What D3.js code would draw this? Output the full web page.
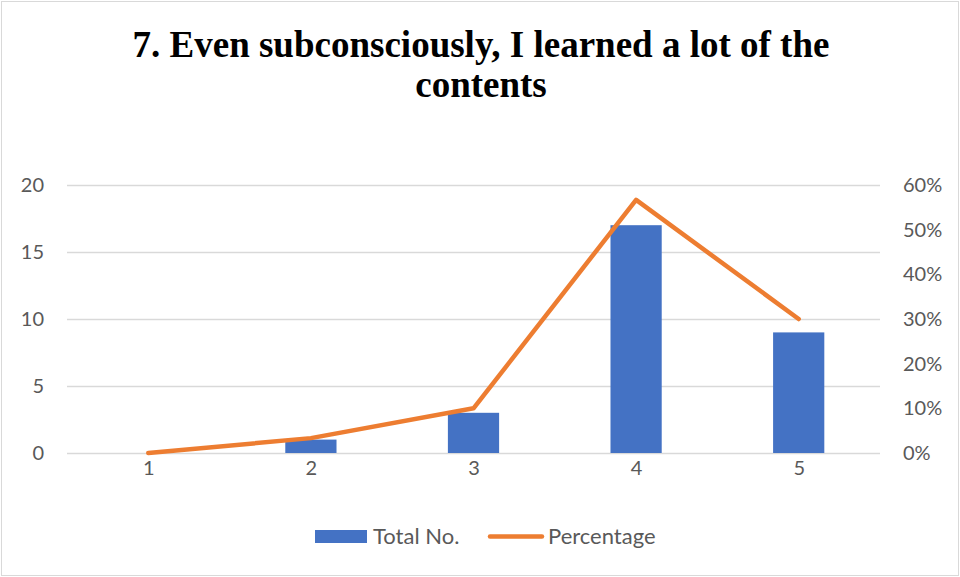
<!DOCTYPE html>
<html>
<head>
<meta charset="utf-8">
<script src="https://cdn.jsdelivr.net/npm/d3@7"></script>
<style>
  html, body { margin: 0; padding: 0; background: #fff; }
  svg { display: block; }
</style>
</head>
<body>
<svg id="chart" width="960" height="577"></svg>
<script>
// Survey item 7: responses per rating and share of all responses
const categories = ["1", "2", "3", "4", "5"];
const totals = [0, 1, 3, 17, 9];
const percentages = [0, 0.0333, 0.10, 0.5667, 0.30];
const leftTicks = [0, 5, 10, 15, 20];
const rightTicks = [0, 0.1, 0.2, 0.3, 0.4, 0.5, 0.6];
const titleLines = ["7. Even subconsciously, I learned a lot of the", "contents"];
const seriesNames = ["Total No.", "Percentage"];

const W = 960, H = 577;
const margin = { left: 67, right: 80, top: 185, bottom: 124 };
const blue = "#4472C4", orange = "#ED7D31", grid = "#D9D9D9", textCol = "#595959";
const labelFont = "Lato, 'Open Sans', sans-serif";

const svg = d3.select("#chart");

// outer chart frame
svg.append("rect")
  .attr("x", 1.5).attr("y", 1.5)
  .attr("width", W - 3).attr("height", H - 3)
  .attr("fill", "#fff").attr("stroke", "#D9D9D9").attr("stroke-width", 1);

// title
svg.append("g").selectAll("text").data(titleLines).join("text")
  .attr("x", 481)
  .attr("y", (d, i) => 57 + i * 40)
  .attr("text-anchor", "middle")
  .attr("font-family", "'Liberation Serif', 'Times New Roman', serif")
  .attr("font-weight", "bold")
  .attr("font-size", 37)
  .attr("fill", "#000")
  .text(d => d);

const x = d3.scaleBand()
  .domain(categories)
  .range([margin.left, W - margin.right])
  .paddingInner(0.685).paddingOuter(0.3425);
const xc = d3.scalePoint()
  .domain(categories)
  .range([margin.left, W - margin.right])
  .padding(0.5);

const yL = d3.scaleLinear().domain([0, 20]).range([H - margin.bottom, margin.top]);
const yR = d3.scaleLinear().domain([0, 0.6]).range([H - margin.bottom, margin.top]);

// gridlines
svg.append("g").selectAll("line").data(leftTicks).join("line")
  .attr("x1", margin.left).attr("x2", W - margin.right)
  .attr("y1", d => yL(d) + 0.5).attr("y2", d => yL(d) + 0.5)
  .attr("stroke", grid).attr("stroke-width", 1.3);

// left axis
const axL = svg.append("g")
  .attr("transform", `translate(${margin.left - 23},0)`)
  .call(d3.axisLeft(yL).tickValues(leftTicks).tickSize(0).tickPadding(0));
axL.select(".domain").remove();
axL.selectAll("text")
  .attr("font-family", labelFont).attr("font-size", 20).attr("fill", textCol);

// right axis
const axR = svg.append("g")
  .attr("transform", `translate(${W - margin.right + 23},0)`)
  .call(d3.axisRight(yR).tickValues(rightTicks).tickFormat(d3.format(".0%")).tickSize(0).tickPadding(0));
axR.select(".domain").remove();
axR.selectAll("text")
  .attr("font-family", labelFont).attr("font-size", 20).attr("fill", textCol);

// bottom axis labels
const axB = svg.append("g")
  .attr("transform", `translate(0,${H - margin.bottom + 8})`)
  .call(d3.axisBottom(xc).tickSize(0).tickPadding(0));
axB.select(".domain").remove();
axB.selectAll("text")
  .attr("font-family", labelFont).attr("font-size", 20).attr("fill", textCol);

// bars
svg.append("g").selectAll("rect").data(totals).join("rect")
  .attr("x", (d, i) => x(categories[i]))
  .attr("width", x.bandwidth())
  .attr("y", d => yL(d))
  .attr("height", d => yL(0) - yL(d))
  .attr("fill", blue);

// percentage line
const line = d3.line()
  .x((d, i) => xc(categories[i]))
  .y(d => yR(d));
svg.append("path")
  .datum(percentages)
  .attr("d", line)
  .attr("fill", "none")
  .attr("stroke", orange)
  .attr("stroke-width", 4.5)
  .attr("stroke-linecap", "round")
  .attr("stroke-linejoin", "round");

// legend
const lg = svg.append("g").attr("font-family", labelFont).attr("font-size", 22).attr("fill", textCol);
lg.append("rect").attr("x", 315).attr("y", 530).attr("width", 52).attr("height", 13).attr("fill", blue);
lg.append("text").attr("x", 373).attr("y", 544).text(seriesNames[0]);
lg.append("line").attr("x1", 490).attr("x2", 542).attr("y1", 536.5).attr("y2", 536.5)
  .attr("stroke", orange).attr("stroke-width", 4.5).attr("stroke-linecap", "round");
lg.append("text").attr("x", 548).attr("y", 544).text(seriesNames[1]);
</script>
</body>
</html>
